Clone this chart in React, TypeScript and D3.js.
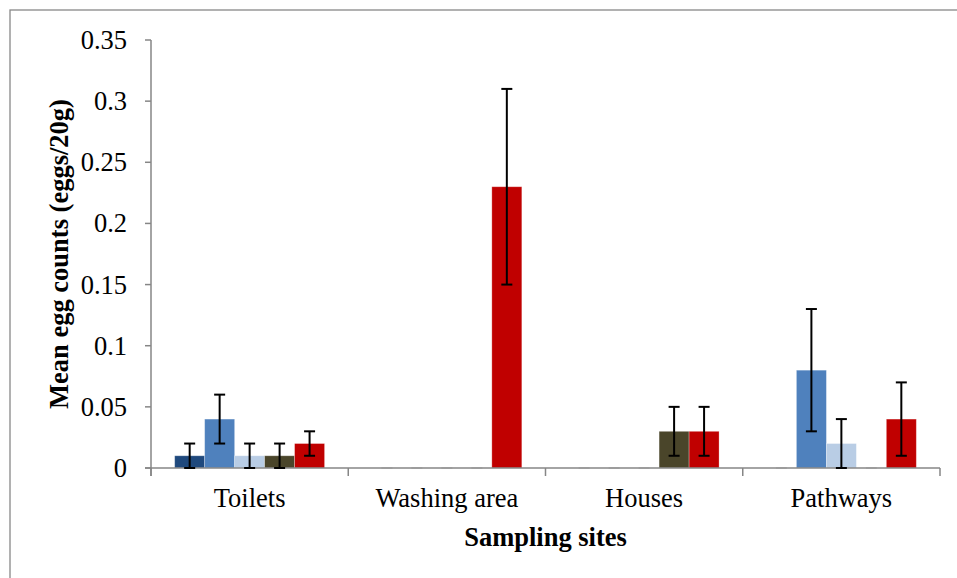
import React from "react";
import * as d3 from "d3";

const categories = ["Toilets", "Washing area", "Houses", "Pathways"];
const seriesNames = ["S1", "S2", "S3", "S4", "S5"];
const seriesColors = ["#1F497D", "#4F81BD", "#B9CDE5", "#4A452A", "#C00000"];
// values[seriesIndex][categoryIndex]
const s1Values = [0.01, 0, 0, 0];
const s2Values = [0.04, 0, 0, 0.08];
const s3Values = [0.01, 0, 0, 0.02];
const s4Values = [0.01, 0, 0.03, 0];
const s5Values = [0.02, 0.23, 0.03, 0.04];
const s1Err = [0.01, 0, 0, 0];
const s2Err = [0.02, 0, 0, 0.05];
const s3Err = [0.01, 0, 0, 0.02];
const s4Err = [0.01, 0, 0.02, 0];
const s5Err = [0.01, 0.08, 0.02, 0.03];
const yTicks = [0, 0.05, 0.1, 0.15, 0.2, 0.25, 0.3, 0.35];
const yTickLabels = ["0", "0.05", "0.1", "0.15", "0.2", "0.25", "0.3", "0.35"];

const allValues = [s1Values, s2Values, s3Values, s4Values, s5Values];
const allErr = [s1Err, s2Err, s3Err, s4Err, s5Err];

export default function App() {
  const W = 957, H = 578;
  const left = 151, right = 940, top = 40, bottom = 468;
  const x0 = d3.scaleBand<string>().domain(categories).range([left, right]).paddingInner(0).paddingOuter(0);
  const x1 = d3.scaleBand<string>().domain(seriesNames).range([0, x0.bandwidth()]).paddingInner(0).paddingOuter(0.79);
  const y = d3.scaleLinear().domain([0, 0.35]).range([bottom, top]);
  const font = "'Liberation Serif', 'Times New Roman', serif";
  const axisColor = "#868686";
  const capW = 11;
  const fs = 26.5;

  return (
    <svg width={W} height={H} style={{ position: "absolute", left: 0, top: 0 }}>
      <rect x={0} y={0} width={W} height={H} fill="#fff" />
      <rect x={10} y={10} width={970} height={600} fill="#fff" stroke="#888" strokeWidth={1.3} />
      {/* bars */}
      {categories.map((c, ci) => (
        <g key={c}>
          {seriesNames.map((s, si) => {
            const v = allValues[si][ci];
            const bx = (x0(c) as number) + (x1(s) as number);
            const bw = x1.bandwidth();
            return v > 0 ? (
              <rect key={s} x={bx} y={y(v)} width={bw} height={y(0) - y(v)} fill={seriesColors[si]} stroke="#ffffff" strokeOpacity={0.35} strokeWidth={0.8} />
            ) : null;
          })}
        </g>
      ))}
      {/* axes */}
      <line x1={left} x2={left} y1={top} y2={bottom + 8} stroke={axisColor} strokeWidth={1.5} />
      <line x1={left - 6} x2={right} y1={bottom} y2={bottom} stroke={axisColor} strokeWidth={1.5} />
      {yTicks.map((t, i) => (
        <g key={t}>
          <line x1={left - 6} x2={left} y1={y(t)} y2={y(t)} stroke={axisColor} strokeWidth={1.5} />
          <text x={127} y={y(t)} dy="0.34em" textAnchor="end" fontFamily={font} fontSize={fs} fill="#000">
            {yTickLabels[i]}
          </text>
        </g>
      ))}
      {d3.range(categories.length + 1).map((i) => {
        const xx = left + i * x0.step();
        return <line key={i} x1={xx} x2={xx} y1={bottom} y2={bottom + 8} stroke={axisColor} strokeWidth={1.5} />;
      })}
      {/* error bars */}
      {categories.map((c, ci) => (
        <g key={c + "e"}>
          {seriesNames.map((s, si) => {
            const v = allValues[si][ci];
            const e = allErr[si][ci];
            const cx = (x0(c) as number) + (x1(s) as number) + x1.bandwidth() / 2;
            if (v === 0 && e === 0) {
              return <line key={s} x1={cx - capW / 2} x2={cx + capW / 2} y1={y(0)} y2={y(0)} stroke="#9a9a9a" strokeWidth={1.5} />;
            }
            const hi = y(v + e), lo = y(Math.max(0, v - e));
            return (
              <g key={s} stroke="#000" strokeWidth={2}>
                <line x1={cx} x2={cx} y1={hi} y2={lo} />
                <line x1={cx - capW / 2} x2={cx + capW / 2} y1={hi} y2={hi} />
                <line x1={cx - capW / 2} x2={cx + capW / 2} y1={lo} y2={lo} />
              </g>
            );
          })}
        </g>
      ))}
      {categories.map((c) => (
        <text key={c + "l"} x={(x0(c) as number) + x0.bandwidth() / 2} y={507} textAnchor="middle" fontFamily={font} fontSize={fs} fill="#000">
          {c}
        </text>
      ))}
      <text x={(left + right) / 2} y={546} textAnchor="middle" fontFamily={font} fontSize={fs} fontWeight="bold" fill="#000">
        Sampling sites
      </text>
      <text transform={`translate(68, ${(top + bottom) / 2}) rotate(-90)`} textAnchor="middle" fontFamily={font} fontSize={fs} fontWeight="bold" fill="#000">
        Mean egg counts (eggs/20g)
      </text>
    </svg>
  );
}
